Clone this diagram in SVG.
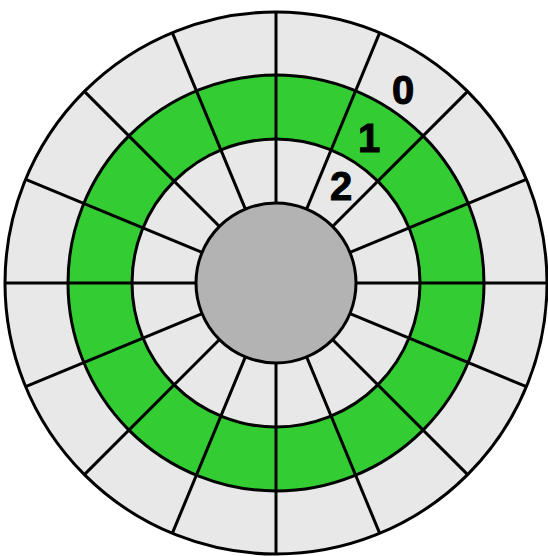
<svg xmlns="http://www.w3.org/2000/svg" width="548" height="556" viewBox="0 0 548 556">
<style>
.ring{stroke:#000;stroke-width:3}
.gray{fill:#e8e8e8}
.green{fill:#33cc33}
.hub{fill:#b3b3b3}
.spoke{stroke:#000;stroke-width:3}
.lbl{font-family:"Liberation Sans",Arial,sans-serif;font-weight:bold;font-size:40px;fill:#000;stroke:#000;stroke-width:1;text-anchor:middle}
</style>
<rect width="548" height="556" fill="#fff"/>
<g id="track0"><circle class="ring gray" cx="276" cy="283" r="271"/></g>
<g id="track1"><circle class="ring green" cx="276" cy="283" r="208"/></g>
<g id="track2"><circle class="ring gray" cx="276" cy="283" r="144"/></g>
<g id="spokes">
<line class="spoke" x1="5" y1="283" x2="547" y2="283"/>
<line class="spoke" x1="25.63" y1="179.29" x2="526.37" y2="386.71"/>
<line class="spoke" x1="84.37" y1="91.37" x2="467.63" y2="474.63"/>
<line class="spoke" x1="172.29" y1="32.63" x2="379.71" y2="533.37"/>
<line class="spoke" x1="276" y1="12" x2="276" y2="554"/>
<line class="spoke" x1="379.71" y1="32.63" x2="172.29" y2="533.37"/>
<line class="spoke" x1="467.63" y1="91.37" x2="84.37" y2="474.63"/>
<line class="spoke" x1="526.37" y1="179.29" x2="25.63" y2="386.71"/>
</g>
<g id="hub"><circle class="ring hub" cx="276" cy="283" r="80"/></g>
<g id="labels">
<text class="lbl" x="403" y="104">0</text>
<text class="lbl" x="369" y="152">1</text>
<text class="lbl" x="341" y="200">2</text>
</g>
</svg>
